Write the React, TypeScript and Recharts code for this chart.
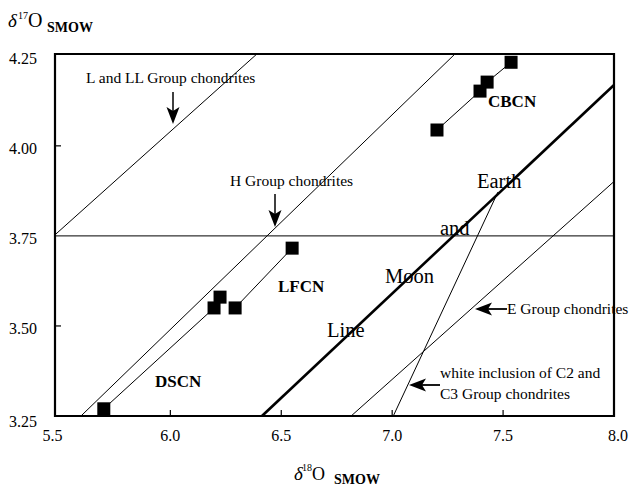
import React from 'react';
import {
  ComposedChart,
  XAxis,
  YAxis,
  Scatter,
  ReferenceLine,
  ReferenceArea,
  Customized,
} from 'recharts';

// ---- data ----
const xTicks = [5.5, 6.0, 6.5, 7.0, 7.5, 8.0];
const yTicks = [3.25, 3.5, 3.75, 4.0, 4.25];
const xDomain = [5.48, 8.0];
const yDomain = [3.25, 4.255];

const dscn = [
  { x: 5.7, y: 3.27 },
  { x: 6.197, y: 3.55 },
];
const dscnExtra = [{ x: 6.224, y: 3.58 }];
const lfcn = [
  { x: 6.292, y: 3.55 },
  { x: 6.549, y: 3.716 },
];
const cbcn = [
  { x: 7.202, y: 4.044 },
  { x: 7.396, y: 4.152 },
  { x: 7.428, y: 4.177 },
  { x: 7.536, y: 4.232 },
];

// fractionation lines (endpoints on the frame)
const lLLLine = [
  { x: 5.48, y: 3.753 },
  { x: 6.39, y: 4.255 },
];
const hLine = [
  { x: 5.597, y: 3.25 },
  { x: 7.283, y: 4.255 },
];
const earthMoonLine = [
  { x: 6.413, y: 3.25 },
  { x: 8.0, y: 4.169 },
];
const eLine = [
  { x: 6.815, y: 3.25 },
  { x: 8.0, y: 3.901 },
];
const whiteInclusionLine = [
  { x: 7.005, y: 3.25 },
  { x: 7.477, y: 3.872 },
];
const horizontalLevel = 3.75;

const FONT = '"Liberation Serif", "Times New Roman", serif';

const Square = (props: any) => {
  const { cx, cy } = props;
  if (cx == null || cy == null) return <g />;
  return <rect x={cx - 6.5} y={cy - 6.5} width={13} height={13} fill="#000" />;
};

const XTick = (props: any) => {
  const { x, y, payload } = props;
  const v = payload.value;
  const dx = v === 5.5 ? -7 : v === 8 ? 4 : 0;
  return (
    <g>
      {v > 5.5 && v < 8 && (
        <line x1={x} x2={x} y1={y} y2={y - 6} stroke="#000" strokeWidth={1.2} />
      )}
      <text x={x + dx} y={y + 25} textAnchor="middle" fontFamily={FONT} fontSize={16} fill="#000">
        {v.toFixed(1)}
      </text>
    </g>
  );
};

const YTick = (props: any) => {
  const { x, y, payload } = props;
  const v = payload.value;
  const dy = v === 3.25 ? 11 : 8;
  return (
    <g>
      {(v === 4.0 || v === 3.5) && (
        <line x1={x} x2={x + 6} y1={y} y2={y} stroke="#000" strokeWidth={1.2} />
      )}
      <text x={x - 18} y={y + dy} textAnchor="end" fontFamily={FONT} fontSize={16} fill="#000">
        {v.toFixed(2)}
      </text>
    </g>
  );
};

const DownArrow = ({ x, y1, y2 }: { x: number; y1: number; y2: number }) => (
  <g>
    <line x1={x} x2={x} y1={y1} y2={y2 - 12} stroke="#000" strokeWidth={1.5} />
    <polygon
      points={`${x},${y2} ${x - 6.5},${y2 - 17} ${x},${y2 - 13} ${x + 6.5},${y2 - 17}`}
      fill="#000"
    />
  </g>
);

const LeftArrow = ({ y, x1, x2 }: { y: number; x1: number; x2: number }) => (
  <g>
    <line x1={x1 + 12} x2={x2} y1={y} y2={y} stroke="#000" strokeWidth={1.8} />
    <polygon
      points={`${x1},${y} ${x1 + 17},${y - 6.5} ${x1 + 13},${y} ${x1 + 17},${y + 6.5}`}
      fill="#000"
    />
  </g>
);

const Annotations = () => (
  <g fontFamily={FONT} fill="#000">
    {/* y axis title */}
    <text y={27}>
      <tspan x={8} fontSize={19} fontStyle="italic">δ</tspan>
      <tspan x={18} dy={-8} fontSize={10}>17</tspan>
      <tspan x={28} dy={8} fontSize={20}>O</tspan>
      <tspan x={47} dy={5} fontSize={14} fontWeight="bold">SMOW</tspan>
    </text>
    {/* x axis title */}
    <text y={480}>
      <tspan x={294} fontSize={19} fontStyle="italic">δ</tspan>
      <tspan x={302} dy={-9} fontSize={10}>18</tspan>
      <tspan x={312} dy={9} fontSize={18}>O</tspan>
      <tspan x={334} dy={4} fontSize={14} fontWeight="bold">SMOW</tspan>
    </text>

    <text x={86} y={83} fontSize={15.5}>L and LL Group chondrites</text>
    <DownArrow x={173} y1={92} y2={124} />

    <text x={230} y={186} fontSize={15.5}>H Group chondrites</text>
    <DownArrow x={275} y1={194} y2={227} />

    <text x={507} y={314} fontSize={15.5}>E Group chondrites</text>
    <LeftArrow y={309} x1={475} x2={507} />

    <text x={440} y={378} fontSize={15.5}>white inclusion of C2 and</text>
    <text x={440} y={399} fontSize={15.5}>C3 Group chondrites</text>
    <LeftArrow y={385} x1={409} x2={440} />

    <text x={477} y={188} fontSize={20.5}>Earth</text>
    <text x={440} y={235} fontSize={20.5}>and</text>
    <text x={385} y={283} fontSize={20.5}>Moon</text>
    <text x={327} y={337} fontSize={20.5}>Line</text>

    <text x={488} y={107} fontSize={17} fontWeight="bold">CBCN</text>
    <text x={278} y={292} fontSize={17} fontWeight="bold">LFCN</text>
    <text x={155} y={387} fontSize={17} fontWeight="bold">DSCN</text>
  </g>
);

const seg = (pts: { x: number; y: number }[]) =>
  pts.map((p) => ({ x: p.x, y: p.y })) as any;

export default function App() {
  return (
    <div style={{ position: 'absolute', left: 0, top: 0, width: 630, height: 496, background: '#fff' }}>
      <ComposedChart
        width={630}
        height={496}
        margin={{ top: 54, right: 16, bottom: 0, left: 0 }}
      >
        <XAxis
          type="number"
          dataKey="x"
          domain={xDomain}
          ticks={xTicks}
          allowDataOverflow
          axisLine={false}
          tickLine={false}
          tickSize={0}
          tickMargin={0}
          tick={<XTick />}
          height={80}
          interval={0}
        />
        <YAxis
          type="number"
          dataKey="y"
          domain={yDomain}
          ticks={yTicks}
          allowDataOverflow
          axisLine={false}
          tickLine={false}
          tickSize={0}
          tickMargin={0}
          tick={<YTick />}
          width={55}
          interval={0}
        />
        <ReferenceLine y={horizontalLevel} stroke="#000" strokeWidth={1} ifOverflow="visible" />
        <ReferenceLine segment={seg(lLLLine)} stroke="#000" strokeWidth={1} ifOverflow="visible" />
        <ReferenceLine segment={seg(hLine)} stroke="#000" strokeWidth={1} ifOverflow="visible" />
        <ReferenceLine segment={seg(earthMoonLine)} stroke="#000" strokeWidth={2.6} ifOverflow="visible" />
        <ReferenceLine segment={seg(eLine)} stroke="#000" strokeWidth={1} ifOverflow="visible" />
        <ReferenceLine segment={seg(whiteInclusionLine)} stroke="#000" strokeWidth={1} ifOverflow="visible" />
        <ReferenceArea
          x1={xDomain[0]}
          x2={xDomain[1]}
          y1={yDomain[0]}
          y2={yDomain[1]}
          fill="none"
          fillOpacity={0}
          stroke="#000"
          strokeWidth={2.2}
          ifOverflow="visible"
        />
        <Scatter data={dscn} line={{ stroke: '#000', strokeWidth: 1 }} shape={<Square />} isAnimationActive={false} />
        <Scatter data={dscnExtra} shape={<Square />} isAnimationActive={false} />
        <Scatter data={lfcn} line={{ stroke: '#000', strokeWidth: 1 }} shape={<Square />} isAnimationActive={false} />
        <Scatter data={cbcn} line={{ stroke: '#000', strokeWidth: 1 }} shape={<Square />} isAnimationActive={false} />
        <Customized component={Annotations} />
      </ComposedChart>
    </div>
  );
}
